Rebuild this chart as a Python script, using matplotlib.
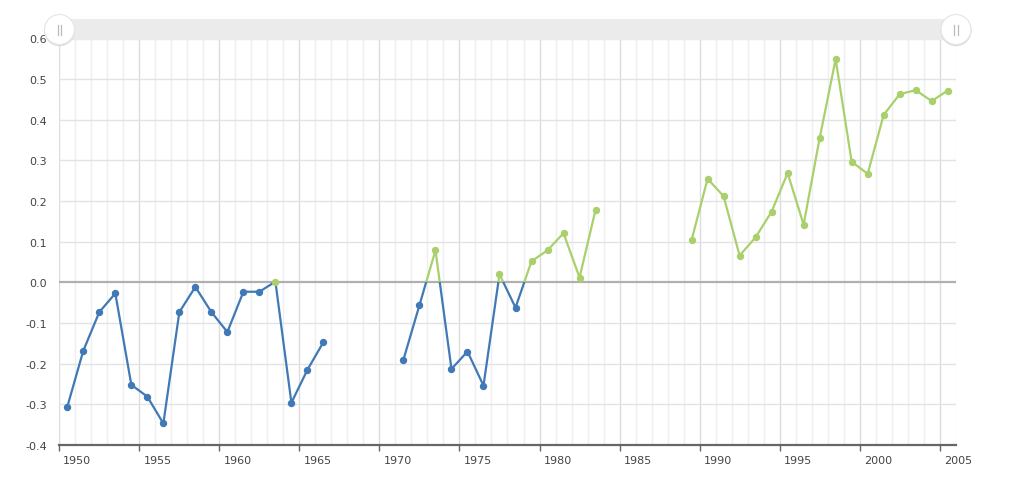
import numpy as np
import matplotlib
matplotlib.use("Agg")
import matplotlib.pyplot as plt
from matplotlib.patches import Rectangle, Circle, Ellipse
from matplotlib.lines import Line2D
import matplotlib.transforms as mtransforms

years = list(range(1950, 2006))
values = [
    -0.306, -0.168, -0.073, -0.027, -0.252, -0.281, -0.347, -0.073, -0.011, -0.073,
    -0.122, -0.023, -0.023, 0.002, -0.296, -0.215, -0.147, np.nan, np.nan, np.nan,
    np.nan, -0.190, -0.056, 0.079, -0.213, -0.170, -0.254, 0.020, -0.062, 0.052,
    0.079, 0.121, 0.012, 0.178, np.nan, np.nan, np.nan, np.nan, np.nan, 0.104,
    0.255, 0.212, 0.066, 0.111, 0.174, 0.269, 0.142, 0.355, 0.549, 0.297,
    0.267, 0.412, 0.463, 0.473, 0.446, 0.472,
]
y_ticks = [-0.4, -0.3, -0.2, -0.1, 0.0, 0.1, 0.2, 0.3, 0.4, 0.5, 0.6]
x_major = list(range(1950, 2006, 5))

BLUE = "#4079b5"
GREEN = "#a9d06c"

W, H = 1024, 485
fig = plt.figure(figsize=(W / 100, H / 100), dpi=100)
fig.patch.set_facecolor("white")

L, R, T, B = 59.3, 955.7, 39.5, 446.0
ax = fig.add_axes([L / W, 1 - B / H, (R - L) / W, (B - T) / H])
ax.set_xlim(1950, 2006)
ax.set_ylim(-0.4, 0.6)

x = np.array(years, dtype=float) + 0.5
y = np.array(values, dtype=float)

# grid
for yr in range(1950, 2007):
    c = "#dcdcdc" if yr % 5 == 0 else "#efefef"
    ax.axvline(yr, color=c, lw=1.0, zorder=0)
for v in y_ticks:
    if abs(v) < 1e-9:
        ax.axhline(v, color="#b0b0b0", lw=1.6, zorder=1)
    else:
        ax.axhline(v, color="#e3e3e3", lw=1.0, zorder=0)

# lines split at zero
lb, = ax.plot(x, y, color=BLUE, lw=1.6, zorder=3, solid_joinstyle="round")
lg, = ax.plot(x, y, color=GREEN, lw=1.6, zorder=3, solid_joinstyle="round")
rb = Rectangle((1900, -10), 200, 10, transform=ax.transData)
rg = Rectangle((1900, 0), 200, 10, transform=ax.transData)
lb.set_clip_path(rb)
lg.set_clip_path(rg)

neg = y < 0
pos = y >= 0
ax.plot(x[neg], y[neg], "o", color=BLUE, ms=4.3, zorder=4, linestyle="none")
ax.plot(x[pos], y[pos], "o", color=GREEN, ms=4.3, zorder=4, linestyle="none")

# axes styling
for s in ["top", "right", "left"]:
    ax.spines[s].set_visible(False)
ax.spines["bottom"].set_color("#666666")
ax.spines["bottom"].set_linewidth(1.6)

ax.set_yticks(y_ticks)
ax.set_yticklabels([f"{v:.1f}" for v in y_ticks])
ax.tick_params(axis="y", length=0, pad=9, labelsize=8, labelcolor="#444444")

ax.set_xticks(x_major)
ax.set_xticklabels([str(v) for v in x_major])
ax.tick_params(axis="x", length=4, width=1, color="#666666", pad=3,
               labelsize=8, labelcolor="#444444", direction="out")
offset = mtransforms.ScaledTranslation(4 / 100, 0, fig.dpi_scale_trans)
for lab in ax.get_xticklabels():
    lab.set_horizontalalignment("left")
    lab.set_transform(lab.get_transform() + offset)

# scrollbar
fig.patches.append(Rectangle((L / W, 1 - 40.5 / H), (R - L) / W, 21 / H,
                             transform=fig.transFigure, facecolor="#ebebeb",
                             edgecolor="none", zorder=1))
for cx in (59.5, 956.0):
    cy = 30.5
    sh = Ellipse((cx / W, 1 - (cy + 1.2) / H), 31 / W, 31 / H, transform=fig.transFigure,
                 facecolor="#dedede", edgecolor="none", zorder=2)
    fig.patches.append(sh)
    e = Ellipse((cx / W, 1 - cy / H), 30 / W, 30 / H, transform=fig.transFigure,
                facecolor="white", edgecolor="#e4e4e4", lw=0.8, zorder=3)
    fig.patches.append(e)
    for dx in (-1.8, 1.8):
        fig.lines.append(Line2D([(cx + dx) / W, (cx + dx) / W],
                                [1 - (cy - 5) / H, 1 - (cy + 5) / H],
                                transform=fig.transFigure, color="#bbbbbb",
                                lw=0.9, zorder=4))

fig.savefig("out.png", dpi=100)
